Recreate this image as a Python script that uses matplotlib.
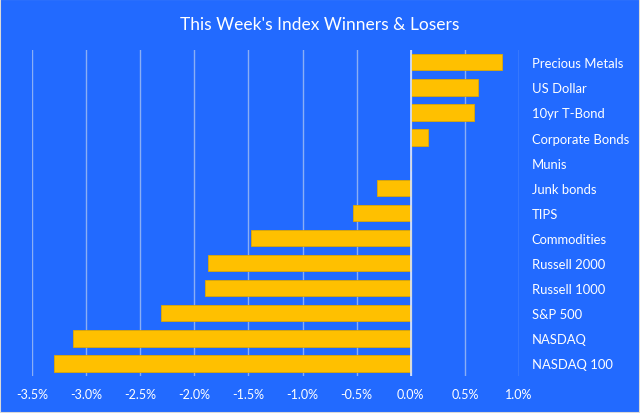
import matplotlib
matplotlib.use("Agg")
import matplotlib.pyplot as plt
from matplotlib.patches import Rectangle

# --- data (weekly % change) ---
categories = ["Precious Metals", "US Dollar", "10yr T-Bond", "Corporate Bonds", "Munis",
              "Junk bonds", "TIPS", "Commodities", "Russell 2000", "Russell 1000",
              "S&P 500", "NASDAQ", "NASDAQ 100"]
changes = [0.84, 0.62, 0.58, 0.16, 0.0, -0.31, -0.53, -1.48, -1.87, -1.90, -2.31, -3.12, -3.30]
xticks = [-3.5, -3.0, -2.5, -2.0, -1.5, -1.0, -0.5, 0.0, 0.5, 1.0]

BG = "#226AFF"
GOLD = "#FFC000"

plt.rcParams['font.family'] = ['Lato', 'DejaVu Sans']

fig = plt.figure(figsize=(6.4, 4.14), dpi=100, facecolor=BG)
ax = fig.add_axes([0.05, 0.0894, 0.761, 0.788])
ax.set_facecolor(BG)

ypos = list(range(len(categories)))
ax.barh(ypos, changes, height=0.65, color=GOLD, edgecolor="#E0A800", linewidth=0.6, zorder=3)

ax.set_ylim(len(categories) - 0.5, -0.5)
ax.set_xlim(-3.5, 1.0)
ax.set_xticks(xticks)
ax.set_xticklabels([f"{t:.1f}%" for t in xticks], color="white", fontsize=9)
ax.grid(axis="x", color="#8AAEF5", linewidth=1, zorder=0)
ax.axvline(0, color="#D8E4FF", linewidth=1.2, zorder=4)

ax.yaxis.tick_right()
ax.set_yticks(ypos)
ax.set_yticklabels(categories, color="white", fontsize=9.4, ha="left")
ax.tick_params(axis="y", length=0, pad=9)
ax.tick_params(axis="x", length=0, pad=9)
for s in ax.spines.values():
    s.set_visible(False)

fig.suptitle("This Week's Index Winners & Losers", color="white", fontsize=12.5, y=0.96)

# thin light border round the chart
fig.patches.append(Rectangle((0, 0), 1, 1, transform=fig.transFigure, fill=False,
                             edgecolor="#D9D9D9", linewidth=1.5))

fig.savefig("out.png", dpi=100, facecolor=BG)
